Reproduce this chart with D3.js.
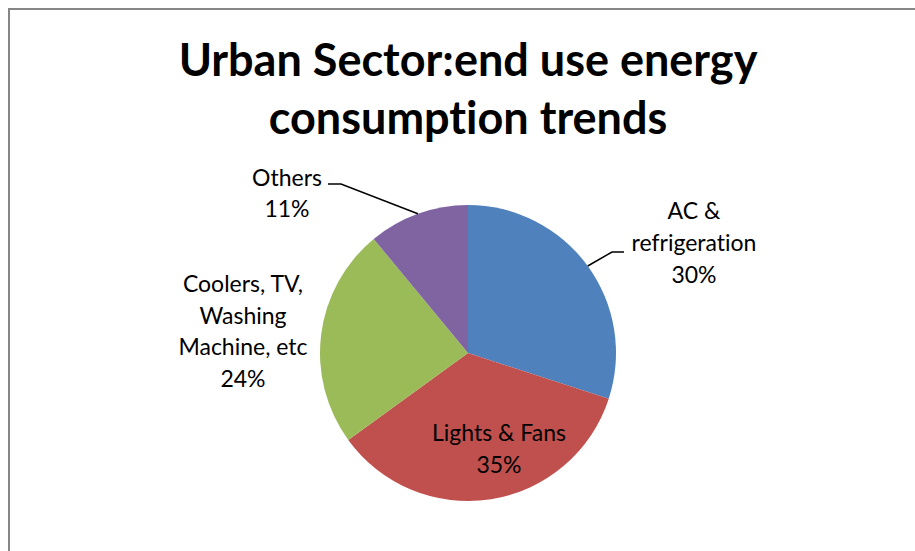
<!DOCTYPE html>
<html>
<head>
<meta charset="utf-8">
<script src="https://cdn.jsdelivr.net/npm/d3@7"></script>
<style>
  html, body { margin: 0; padding: 0; background: #fff; }
  svg { display: block; }
  text { font-variant-ligatures: none; font-feature-settings: "liga" 0, "clig" 0; }
</style>
</head>
<body>
<script>
const categories = ["AC & refrigeration", "Lights & Fans", "Coolers, TV, Washing Machine, etc", "Others"];
const values = [30, 35, 24, 11];
const labelLines = [["AC &", "refrigeration", "30%"], ["Lights & Fans", "35%"], ["Coolers, TV,", "Washing", "Machine, etc", "24%"], ["Others", "11%"]];
const colors = ["#4F81BD", "#C0504D", "#9BBB59", "#8064A2"];
const titleLines = ["Urban Sector:end use energy", "consumption trends"];

const W = 915, H = 551;
const svg = d3.select("body").append("svg").attr("width", W).attr("height", H);
const font = "Lato, 'Open Sans', sans-serif";

// chart frame
svg.append("rect").attr("x", 9).attr("y", 9).attr("width", 960).attr("height", 600)
  .attr("fill", "#fff").attr("stroke", "#868686").attr("stroke-width", 2);

// title
const title = svg.append("text").attr("text-anchor", "middle").attr("font-family", font)
  .attr("font-weight", "bold").attr("font-size", 45).attr("fill", "#000");
titleLines.forEach((t, i) => title.append("tspan").attr("x", 468).attr("y", 76 + i * 58).text(t));

// pie
const cx = 468, cy = 353, r = 148;
const pie = d3.pie().sort(null).value(d => d)(values);
const arc = d3.arc().innerRadius(0).outerRadius(r);
const g = svg.append("g").attr("transform", `translate(${cx},${cy})`);
g.selectAll("path").data(pie).join("path")
  .attr("d", arc).attr("fill", (d, i) => colors[i]);

// labels (layout positions per slice)
const labelPos = [
  { x: 694, y: 219, dy: 32 },
  { x: 499, y: 441, dy: 32 },
  { x: 243, y: 292, dy: 31.5 },
  { x: 287, y: 186, dy: 31 }
];
labelLines.forEach((lines, i) => {
  const t = svg.append("text").attr("text-anchor", "middle").attr("font-family", font)
    .attr("font-size", 23).attr("fill", "#000");
  lines.forEach((s, j) => t.append("tspan").attr("x", labelPos[i].x).attr("y", labelPos[i].y + j * labelPos[i].dy).text(s));
});

// leader lines
function edgePoint(d, frac) {
  const a = d.startAngle + (d.endAngle - d.startAngle) * frac;
  return [cx + r * Math.sin(a), cy - r * Math.cos(a)];
}
const pAC = edgePoint(pie[0], 0.5);
const pOth = edgePoint(pie[3], 0.5);
const line = d3.line();
svg.append("path").attr("d", line([pAC, [612, 252], [624, 252]]))
  .attr("fill", "none").attr("stroke", "#000").attr("stroke-width", 1.5);
svg.append("path").attr("d", line([[328, 184], [341, 184], pOth]))
  .attr("fill", "none").attr("stroke", "#000").attr("stroke-width", 1.5);
</script>
</body>
</html>
